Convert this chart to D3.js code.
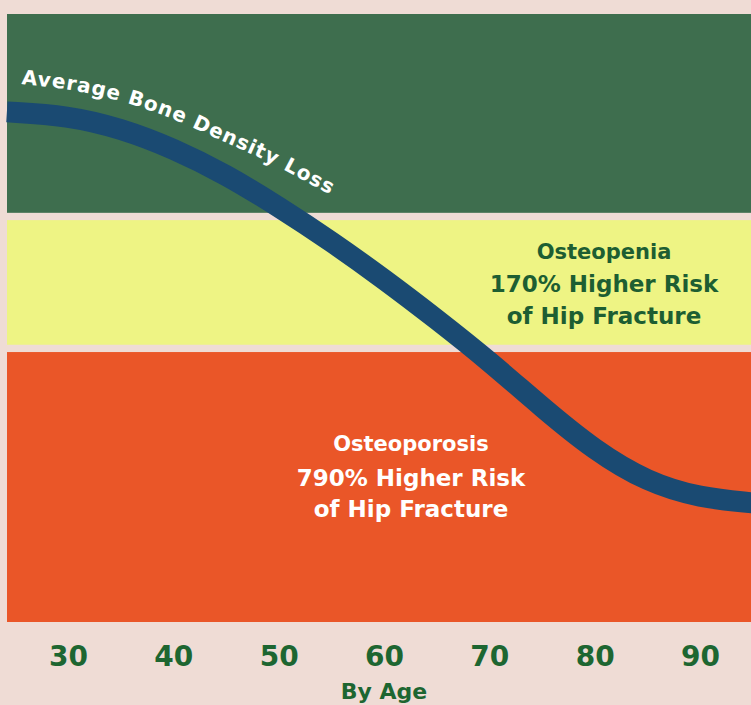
<!DOCTYPE html>
<html>
<head>
<meta charset="utf-8">
<script src="https://cdn.jsdelivr.net/npm/d3@7"></script>
<style>
  html, body { margin: 0; padding: 0; background: #efdcd5; }
  svg { display: block; }
  text { font-family: "DejaVu Sans", sans-serif; font-weight: bold; }
</style>
</head>
<body>
<svg id="chart"></svg>
<script>
// Ages on the x axis
const ticks = [30, 40, 50, 60, 70, 80, 90];

// Average bone density curve (age, relative density)
const ages = [24.2, 30, 35, 40, 45, 50, 55, 60, 65, 70, 75, 80, 85, 90, 95];
const density = [83.9, 83.3, 81.2, 77.9, 73.6, 68.3, 62.6, 56.4, 49.8, 42.9, 35.3, 28.2, 23.0, 20.4, 19.6];

// Baseline of the curved series label
const labelAges = [25.4, 30.2, 34.9, 39.7, 44.4, 49.2, 55.8];
const labelDensity = [88.5, 87.5, 85.7, 82.9, 79.3, 75.5, 69.4];

// Zones: [low, high] in density units
const zoneNames = ["Normal", "Osteopenia", "Osteoporosis"];
const zoneRanges = [[67.3, 100], [45.6, 66.1], [0, 44.4]];
const zoneColors = ["#3e6e4e", "#eef484", "#ea5628"];
const zoneText = [
  [],
  ["Osteopenia", "170% Higher Risk", "of Hip Fracture"],
  ["Osteoporosis", "790% Higher Risk", "of Hip Fracture"]
];

const W = 751, H = 705;
const svg = d3.select("#chart").attr("width", W).attr("height", H);

const x = d3.scaleLinear().domain([30, 90]).range([68, 700]);
const y = d3.scaleLinear().domain([0, 100]).range([622, 14]);

const left = 7, right = W + 10;

// Zone bands
svg.append("g")
  .selectAll("rect")
  .data(zoneRanges)
  .join("rect")
  .attr("x", left)
  .attr("width", right - left)
  .attr("y", d => y(d[1]))
  .attr("height", d => y(d[0]) - y(d[1]))
  .attr("fill", (d, i) => zoneColors[i]);

// Density line
const pts = ages.map((a, i) => [a, density[i]]);
const line = d3.line()
  .x(d => x(d[0]))
  .y(d => y(d[1]))
  .curve(d3.curveBasis);

svg.append("path")
  .datum(pts)
  .attr("fill", "none")
  .attr("stroke", "#1a4a72")
  .attr("stroke-width", 21)
  .attr("d", line);

// Curved label
const labelPts = labelAges.map((a, i) => [a, labelDensity[i]]);
svg.append("defs").append("path")
  .attr("id", "labelPath")
  .attr("d", d3.line().x(d => x(d[0])).y(d => y(d[1])).curve(d3.curveCatmullRom)(labelPts));

svg.append("text")
  .attr("fill", "#ffffff")
  .attr("font-size", 20)
  .append("textPath")
  .attr("href", "#labelPath")
  .attr("startOffset", 2)
  .attr("textLength", 330)
  .attr("lengthAdjust", "spacing")
  .text("Average Bone Density Loss");

// Zone annotations
const zoneLabelPos = [null, { cx: 604, ys: [259, 292, 324], sizes: [21, 23, 23] },
  { cx: 411, ys: [451, 486, 517], sizes: [21, 23, 23] }];
const zoneLabelColor = [null, "#1d5e32", "#ffffff"];

zoneText.forEach((lines, i) => {
  if (!lines.length) return;
  const pos = zoneLabelPos[i];
  svg.append("g")
    .selectAll("text")
    .data(lines)
    .join("text")
    .attr("x", pos.cx)
    .attr("y", (d, j) => pos.ys[j])
    .attr("text-anchor", "middle")
    .attr("font-size", (d, j) => pos.sizes[j])
    .attr("fill", zoneLabelColor[i])
    .text(d => d);
});

// X axis
const axis = svg.append("g")
  .attr("transform", "translate(0,666)")
  .call(d3.axisBottom(x).tickValues(ticks).tickSize(0).tickPadding(0));
axis.select(".domain").remove();
axis.selectAll("text")
  .attr("dy", 0)
  .attr("font-size", 28)
  .attr("font-family", "DejaVu Sans, sans-serif")
  .attr("font-weight", "bold")
  .attr("fill", "#1d6631");

svg.append("text")
  .attr("x", x(60))
  .attr("y", 699)
  .attr("text-anchor", "middle")
  .attr("font-size", 22)
  .attr("fill", "#1d6631")
  .text("By Age");
</script>
</body>
</html>
